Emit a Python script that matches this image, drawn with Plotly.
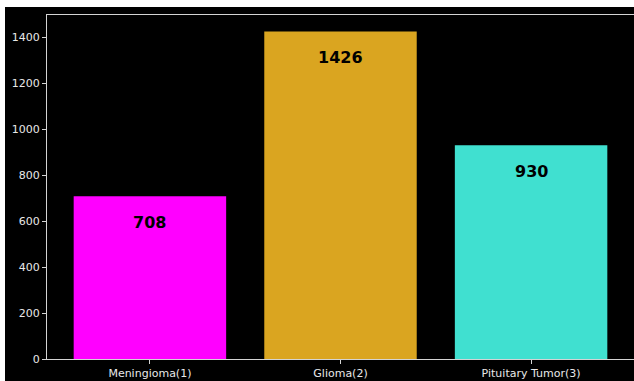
import plotly.graph_objects as go

categories = ["Meningioma(1)", "Glioma(2)", "Pituitary Tumor(3)"]
counts = [708, 1426, 930]
colors = ["#FF00FF", "#DAA520", "#40E0D0"]
ytick_vals = [0, 200, 400, 600, 800, 1000, 1200, 1400]

W, H = 634, 381
L, R, T, B = 47, 0, 15, 22

fig = go.Figure(go.Bar(
    x=categories, y=counts, marker=dict(color=colors, line=dict(width=0)),
    width=0.8, hoverinfo="x+y",
))

for c, v in zip(categories, counts):
    fig.add_annotation(x=c, y=v, yshift=-26, yanchor="middle", xanchor="center",
                       text=f"<b>{v}</b>", showarrow=False,
                       font=dict(family="DejaVu Sans", size=16, color="black"))

axis_common = dict(showline=True, linecolor="#d4d4d4", linewidth=1, mirror=True,
                   ticks="outside", ticklen=4, tickcolor="#d4d4d4", tickwidth=1,
                   showgrid=False, zeroline=False,
                   tickfont=dict(family="DejaVu Sans", size=11, color="#e8e8e8"))

fig.update_xaxes(range=[-0.54, 2.54], **axis_common)
fig.update_yaxes(range=[0, max(counts) * 1.05], tickvals=ytick_vals, **axis_common)

fig.update_layout(
    width=W, height=H, margin=dict(l=L, r=R, t=T, b=B, autoexpand=False),
    paper_bgcolor="black", plot_bgcolor="black", showlegend=False,
)

# white strips at top and left (outer page border)
fig.add_shape(type="rect", xref="paper", yref="paper", layer="above",
              x0=-L / (W - L - R) - 0.01, x1=1.01,
              y0=1 + (T - 7) / (H - T - B), y1=1 + T / (H - T - B) + 0.01,
              fillcolor="white", line=dict(width=0))
fig.add_shape(type="rect", xref="paper", yref="paper", layer="above",
              x0=-L / (W - L - R) - 0.01, x1=(5 - L) / (W - L - R),
              y0=-B / (H - T - B) - 0.01, y1=1 + T / (H - T - B) + 0.01,
              fillcolor="white", line=dict(width=0))

fig.write_html("out.html")
